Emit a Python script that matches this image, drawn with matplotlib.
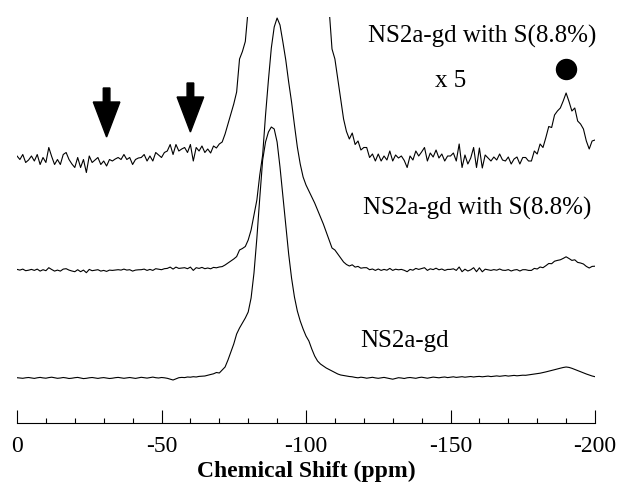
import numpy as np
import matplotlib.pyplot as plt
from matplotlib.ticker import MultipleLocator

plt.rcParams['font.family'] = 'Liberation Serif'
plt.rcParams['axes.unicode_minus'] = False

# chemical shift axis, 1 ppm steps from 0 to -200
shift = -np.arange(0, 201)

# NS2a-gd with S(8.8%), intensity
with_s = [
    0.6, -0.1, 0.9, -0.7, -0.2, 0.6, -0.4, 0.9, -1.1, 0.3,
    -0.7, 2.3, 0.5, -1.1, -0.1, -1.1, 0.9, 1.3, -0.1, -1.0,
    -1.7, 0.3, -1.7, -0.1, -2.7, 0.6, -0.7, -0.2, 0.3, -1.1,
    -0.4, -1.4, -0.1, -0.4, 0.0, 0.3, -0.1, 0.9, -0.1, 0.3,
    -1.1, -0.1, 0.2, 0.3, 0.9, -0.4, 0.6, -0.4, 1.3, 0.8,
    0.3, 1.3, 1.6, 2.9, 0.9, 2.9, 1.6, 2.0, 2.3, 1.3,
    2.9, -0.4, 2.3, 1.6, 2.6, 1.3, 2.0, 1.2, 2.6, 2.2,
    3.0, 3.4, 5.0, 7.0, 9.0, 11.0, 13.4, 20.0, 21.5, 23.5,
    30.0, 40.0, 55.0, 70.0, 95.0, 115.0, 155.0, 190.0, 222.0, 243.0,
    252.0, 245.0, 228.0, 210.0, 188.0, 168.0, 145.0, 123.0, 106.0, 93.0,
    85.0, 79.0, 73.0, 67.0, 60.0, 53.0, 46.0, 38.0, 30.0, 22.0,
    20.0, 16.0, 12.0, 8.0, 5.5, 4.0, 5.2, 2.9, 3.6, 1.8,
    2.3, 2.3, 0.3, 1.0, -0.4, 1.0, -0.4, 0.6, -0.2, 1.6,
    -0.4, 0.8, 0.2, 0.6, -0.3, -1.7, 0.6, -0.2, 1.6, 0.6,
    1.4, 2.3, -0.4, 1.2, 0.4, 1.8, 0.2, 1.0, -0.4, 0.6,
    0.6, 1.2, -0.4, 3.0, -1.7, 0.8, -1.0, 0.2, 2.3, -1.7,
    2.2, -1.8, 0.8, 0.2, -0.4, 0.4, -0.2, 1.0, -0.2, -0.4,
    0.4, -1.0, 0.0, 0.4, -1.0, 0.3, 0.3, -0.4, -0.4, 1.6,
    1.0, 3.0, 2.3, 4.3, 6.5, 6.3, 8.8, 9.6, 10.2, 11.6,
    13.2, 11.5, 9.6, 10.2, 7.6, 7.0, 6.0, 3.6, 2.0, 3.6, 3.8,
]

# NS2a-gd
ns2a = [
    0.3, 0.0, -0.3, 0.2, 0.5, 0.0, -0.4, 0.2, 0.6, 0.1,
    -0.2, 0.4, 0.8, 0.2, -0.3, 0.0, 0.5, 0.1, -0.5, -0.2,
    0.3, 0.6, 0.0, -0.6, -0.3, 0.2, 0.5, 0.0, -0.4, 0.1,
    0.4, 0.0, -0.5, -0.2, 0.3, 0.6, 0.2, -0.3, 0.1, 0.5,
    0.0, -0.4, 0.2, 0.7, 0.3, -0.1, 0.4, 0.9, 0.3, 0.0,
    0.5, 0.2, -0.3, -1.2, -2.0, -0.8, 0.3, 0.6, 0.4, 1.0,
    0.8, 1.3, 1.0, 1.6, 1.8, 2.0, 2.8, 3.5, 4.2, 5.5,
    5.0, 8.0, 11.0, 18.0, 26.0, 34.0, 44.0, 50.0, 55.0, 60.0,
    66.0, 80.0, 105.0, 140.0, 180.0, 218.0, 236.0, 246.0, 251.0, 249.0,
    236.0, 211.0, 182.0, 152.0, 124.0, 100.0, 81.0, 67.0, 57.0, 49.0,
    42.0, 37.0, 29.0, 22.0, 17.0, 14.0, 12.0, 10.0, 8.5, 7.0,
    5.5, 4.0, 3.0, 2.5, 2.0, 1.5, 1.2, 0.6, 0.2, 0.8,
    0.4, -0.2, 0.3, 0.7, 0.1, -0.3, 0.2, 0.6, 0.0, -0.6,
    -1.2, -0.4, 0.3, 0.0, -0.5, 0.2, 0.5, 0.1, -0.3, 0.4,
    0.8, 0.3, -0.2, 0.4, 0.9, 0.5, 0.2, 0.7, 1.0, 0.4,
    0.8, 1.2, 0.6, 0.9, 1.3, 0.8, 1.1, 1.5, 1.0, 1.4,
    1.6, 1.2, 1.5, 1.9, 1.4, 1.8, 2.1, 1.7, 2.0, 2.4,
    1.9, 2.2, 2.6, 2.2, 2.5, 2.8, 2.7, 3.1, 3.4, 3.9,
    4.3, 4.8, 5.4, 6.1, 6.8, 7.6, 8.3, 9.1, 9.8, 10.5,
    11.0, 10.6, 9.7, 8.6, 7.5, 6.3, 5.1, 4.0, 3.0, 2.0, 1.3,
]

zoom_factor = 5
arrow_shifts = [-31, -60]   # marked positions (arrows)
dot_shift = -190            # marked peak (filled circle)

fig = plt.figure(figsize=(6.18, 4.86), dpi=100)
ax = fig.add_axes([17/618, 63/486, 578/618, 406/486])

with_s = np.array(with_s)
ns2a = np.array(ns2a)

#stacked traces
ax.plot(shift, ns2a + 45, color='k', lw=0.8)
ax.plot(shift, with_s + 153, color='k', lw=0.8)
ax.plot(shift, zoom_factor * with_s + 264, color='k', lw=0.8)

ax.set_xlim(0, -200)
ax.set_ylim(0, 406)

#arrows and dot
ax.arrow(arrow_shifts[0], 335, 0, -49, width=2.3, head_width=9.2, head_length=35,
         length_includes_head=True, color='k')
ax.arrow(arrow_shifts[1], 340, 0, -49, width=2.3, head_width=9.2, head_length=35,
         length_includes_head=True, color='k')
ax.plot(dot_shift, 353.7, 'o', ms=14.4, color='k', clip_on=False)

#labels
ax.text(-121.5, 380, 'NS2a-gd with S(8.8%)', fontsize=18, ha='left', va='baseline')
ax.text(-144.6, 336, 'x 5', fontsize=18, ha='left', va='baseline')
ax.text(-119.7, 208, 'NS2a-gd with S(8.8%)', fontsize=18, ha='left', va='baseline')
ax.text(-118.7, 76, 'NS2a-gd', fontsize=18, ha='left', va='baseline')

for s in ['left', 'right', 'top']:
    ax.spines[s].set_visible(False)
ax.spines['bottom'].set_linewidth(0.8)
ax.set_yticks([])
ax.set_xticks([0, -50, -100, -150, -200])
ax.xaxis.set_minor_locator(MultipleLocator(10))
ax.tick_params(axis='x', which='major', direction='in', length=9.4, width=0.8,
               labelsize=17, pad=9)
ax.tick_params(axis='x', which='minor', direction='in', length=3.6, width=0.8)
ax.set_xlabel('Chemical Shift (ppm)', fontsize=17, fontweight='bold', labelpad=3)

fig.savefig('out.png', dpi=100)
